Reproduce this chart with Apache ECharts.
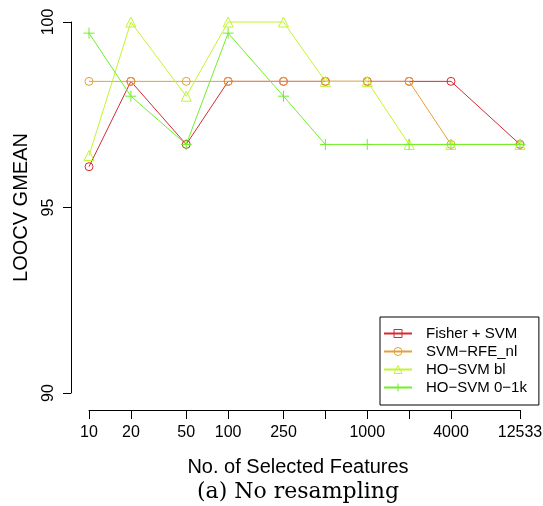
<!DOCTYPE html>
<html>
<head>
<meta charset="utf-8">
<script src="https://cdn.jsdelivr.net/npm/echarts@6/dist/echarts.min.js"></script>
<style>
  html, body { margin: 0; padding: 0; background: #fff; }
  #chart { width: 543px; height: 506px; }
</style>
</head>
<body>
<div id="chart"></div>
<script>
// no. of selected features (log x axis)
var features = [10, 20, 50, 100, 250, 500, 1000, 2000, 4000, 12533]
var labelTicks = [10, 20, 50, 100, 250, 1000, 4000, 12533]
var yTicks = [90, 95, 100]

var fisherSvm = [96.1, 98.4, 96.7, 98.4, 98.4, 98.4, 98.4, 98.4, 98.4, 96.7]
var svmRfeNl = [98.4, 98.4, 98.4, 98.4, 98.4, 98.4, 98.4, 98.4, 96.7, 96.7]
var hoSvmBl = [96.4, 100, 98.0, 100, 100, 98.4, 98.4, 96.7, 96.7, 96.7]
var hoSvm01k = [99.7, 98.0, 96.7, 99.7, 98.0, 96.7, 96.7, 96.7, 96.7, 96.7]

var font = 'Liberation Sans'
var plus = 'path://M0,5L10,5M5,0L5,10'

function pairs(vals, sym) {
  return vals.map(function (v, i) {
    var item = { value: [features[i], v] }
    if (sym) item.symbol = sym
    return item
  })
}

function mkSeries(name, vals, color, symbol, size, pointSym) {
  return {
    name: name,
    type: 'line',
    data: pairs(vals, pointSym),
    symbol: symbol,
    symbolSize: size,
    showAllSymbol: true,
    clip: false,
    lineStyle: { color: color, width: 1 },
    itemStyle: { color: 'rgba(0,0,0,0)', borderColor: color, borderWidth: 1 },
    emphasis: { disabled: true }
  }
}

var chart = echarts.init(document.getElementById('chart'))
chart.setOption({
  animation: false,
  textStyle: { fontFamily: font },
  title: {
    text: '(a) No resampling',
    left: 192,
    top: 476,
    textStyle: { fontFamily: 'DejaVu Serif', fontWeight: 'normal', fontSize: 22, color: '#000' }
  },
  grid: { left: 89, right: 23, top: 22, bottom: 113, outerBoundsMode: 'none', containLabel: false },
  xAxis: {
    type: 'log',
    logBase: 10,
    min: 10,
    max: 12533,
    offset: 17,
    name: 'No. of Selected Features',
    nameLocation: 'middle',
    nameGap: 47,
    nameTextStyle: { fontSize: 20, color: '#000', fontFamily: font, padding: [0, 13, 0, 0] },
    axisLine: { lineStyle: { color: '#000', width: 1 } },
    axisTick: { length: 9, lineStyle: { color: '#000' }, customValues: features },
    axisLabel: { customValues: labelTicks, fontSize: 16, color: '#000', margin: 15, formatter: function (v) { return String(Math.round(v)) } },
    splitLine: { show: false }
  },
  yAxis: {
    type: 'value',
    min: 90,
    max: 100,
    interval: 5,
    offset: 18,
    name: 'LOOCV GMEAN',
    nameLocation: 'middle',
    nameGap: 40,
    nameRotate: 90,
    nameTextStyle: { fontSize: 20, color: '#000', fontFamily: font },
    axisLine: { show: true, lineStyle: { color: '#000', width: 1 } },
    axisTick: { show: true, length: 8, lineStyle: { color: '#000' } },
    axisLabel: { rotate: 90, fontSize: 16, color: '#000', margin: 14 },
    splitLine: { show: false }
  },
  legend: {
    orient: 'vertical',
    left: 380,
    top: 317,
    borderColor: '#000',
    borderWidth: 1,
    borderRadius: 0,
    padding: [9, 12, 10, 3],
    itemGap: 3,
    itemWidth: 28,
    itemHeight: 10,
    icon: 'inherit',
    itemStyle: { borderWidth: 1 },
    textStyle: { fontSize: 15, color: '#000', fontFamily: font, padding: [0, 0, 0, 9] },
    data: ['Fisher + SVM', 'SVM\u2212RFE_nl', 'HO\u2212SVM bl', 'HO\u2212SVM 0\u22121k']
  },
  series: [
    mkSeries('Fisher + SVM', fisherSvm, '#d42a35', 'rect', 8, 'circle'),
    mkSeries('SVM\u2212RFE_nl', svmRfeNl, '#e3a03a', 'circle', 8),
    mkSeries('HO\u2212SVM bl', hoSvmBl, '#c2f52e', 'triangle', 10),
    mkSeries('HO\u2212SVM 0\u22121k', hoSvm01k, '#72ee2a', plus, 11)
  ]
})
</script>
</body>
</html>
